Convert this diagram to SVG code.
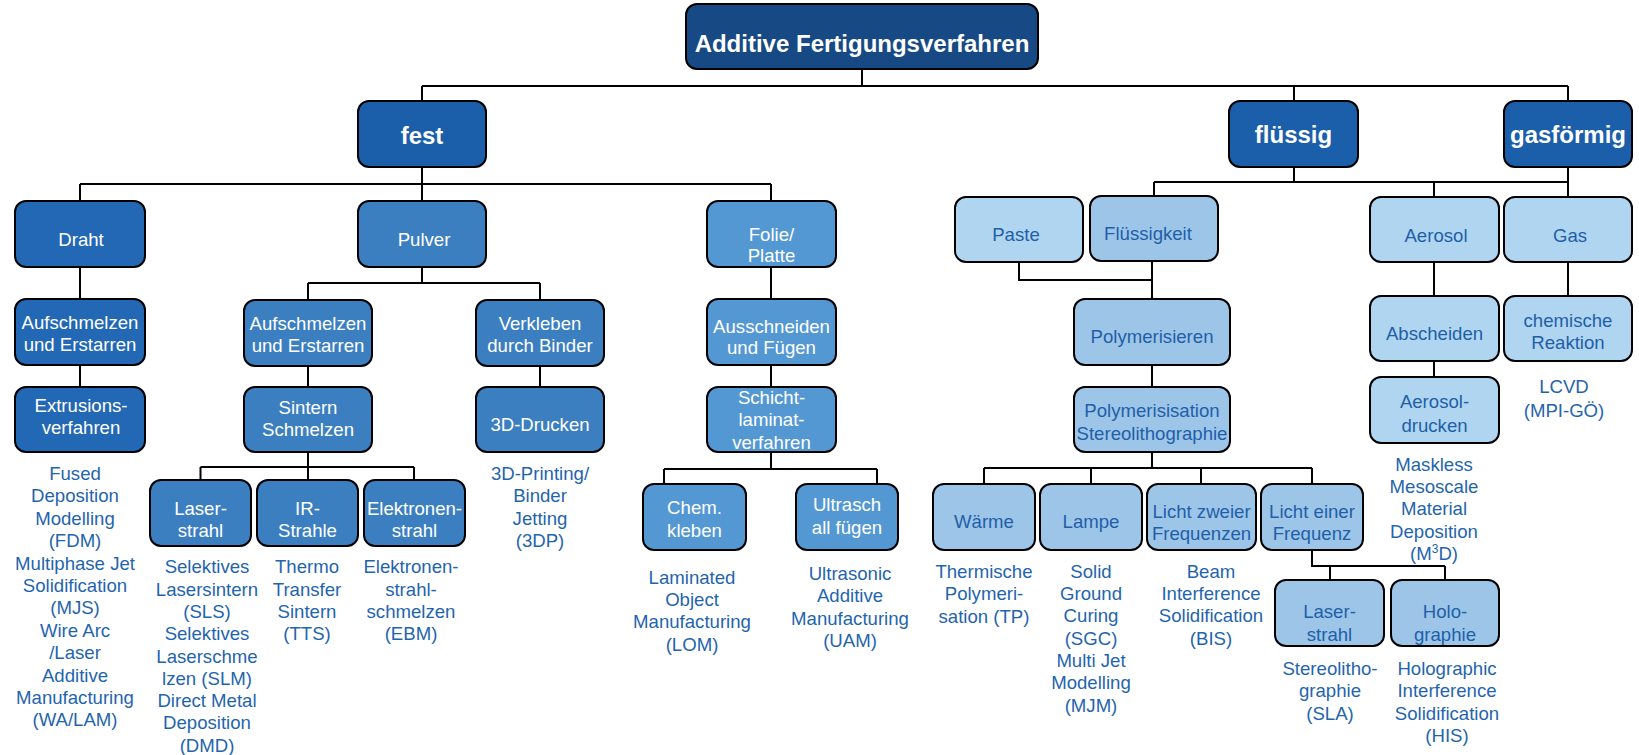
<svg xmlns="http://www.w3.org/2000/svg" width="1639" height="755" viewBox="0 0 1639 755">
<style>
rect{stroke:#000;stroke-width:2}
.c0{fill:#174A85}.c1{fill:#1B5EA9}.c2{fill:#2368B4}.c3{fill:#3C7FC1}.c4{fill:#5498D3}.c5{fill:#B0D5F0}.c6{fill:#9DC5E8}
text{font-family:"Liberation Sans",Arial,sans-serif;font-size:18.6px;text-anchor:middle}
.w{fill:#fff}.d{fill:#1F5FA8}.l{fill:#1F65AE}
.big{font-size:24px;font-weight:bold;fill:#fff}
.con{stroke:#000;stroke-width:2;fill:none}
</style>
<rect width="1639" height="755" fill="#fff" style="stroke:none"/>
<g id="connectors" class="con">
<path d="M862,69V86M422,86H1568M422,86V101M1294,86V101M1568,86V101"/>
<path d="M422,167V184M80,184H771M80,184V201M422,184V201M771,184V201"/>
<path d="M80,267V299M80,365V387"/>
<path d="M422,267V283M308,283H540M308,283V300M540,283V300M308,366V387M540,366V387"/>
<path d="M308,452V480M200.5,467H414M200.5,467V480M414,467V480"/>
<path d="M771,267V299M771,365V387M771,452V469M664,469H877M664,469V484M877,469V484"/>
<path d="M1294,167V182M1154,182H1568M1154,182V196M1434,182V197M1568,167V197"/>
<path d="M1019,262V280H1152M1152,261V299M1152,365V387"/>
<path d="M1152,452V468M984,468H1312M984,468V484M1091,468V484M1201,468V484M1312,468V484"/>
<path d="M1312,550V566H1445M1330,566V580M1445,566V580"/>
<path d="M1434,262V296M1434,361V377M1568,262V296"/>
</g>
<g id="root"><rect class="c0" x="686" y="4" width="352" height="65" rx="11"/><text class="big" x="862" y="52">Additive Fertigungsverfahren</text></g>
<g id="fest"><rect class="c1" x="358" y="101" width="128" height="66" rx="11"/><text class="big" x="422" y="144">fest</text></g>
<g id="fluessig"><rect class="c1" x="1229" y="101" width="129" height="66" rx="11"/><text class="big" x="1293.5" y="143">flüssig</text></g>
<g id="gasfoermig"><rect class="c1" x="1504" y="101" width="128" height="66" rx="11"/><text class="big" x="1568" y="143">gasförmig</text></g>

<g id="draht"><rect class="c2" x="15" y="201" width="130" height="66" rx="11"/><text class="w" x="81" y="246">Draht</text></g>
<g id="aufschmelzen1"><rect class="c2" x="15" y="299" width="130" height="66" rx="11"/><text class="w" x="80" y="329">Aufschmelzen<tspan x="80" dy="22.3">und Erstarren</tspan></text></g>
<g id="extrusion"><rect class="c2" x="15" y="387" width="130" height="65" rx="11"/><text class="w" x="81" y="411.7">Extrusions-<tspan x="81" dy="22.3">verfahren</tspan></text></g>

<g id="pulver"><rect class="c3" x="358" y="201" width="128" height="66" rx="11"/><text class="w" x="424" y="246">Pulver</text></g>
<g id="aufschmelzen2"><rect class="c3" x="244" y="300" width="128" height="66" rx="11"/><text class="w" x="308" y="330">Aufschmelzen<tspan x="308" dy="22">und Erstarren</tspan></text></g>
<g id="sintern"><rect class="c3" x="244" y="387" width="128" height="65" rx="11"/><text class="w" x="308" y="414">Sintern<tspan x="308" dy="22">Schmelzen</tspan></text></g>
<g id="verkleben"><rect class="c3" x="476" y="300" width="128" height="66" rx="11"/><text class="w" x="540" y="330">Verkleben<tspan x="540" dy="22">durch Binder</tspan></text></g>
<g id="drucken3d"><rect class="c3" x="476" y="387" width="128" height="65" rx="11"/><text class="w" x="540" y="430.7">3D-Drucken</text></g>
<g id="laserstrahl1"><rect class="c3" x="150" y="480" width="101" height="66" rx="11"/><text class="w" x="200.5" y="515">Laser-<tspan x="200.5" dy="21.7">strahl</tspan></text></g>
<g id="irstrahle"><rect class="c3" x="257" y="480" width="101" height="66" rx="11"/><text class="w" x="307.5" y="515">IR-<tspan x="307.5" dy="21.7">Strahle</tspan></text></g>
<g id="elektronenstrahl"><rect class="c3" x="364" y="480" width="101" height="66" rx="11"/><text class="w" x="414.5" y="515">Elektronen-<tspan x="414.5" dy="21.7">strahl</tspan></text></g>

<g id="folie"><rect class="c4" x="707" y="201" width="129" height="66" rx="11"/><text class="w" x="771.5" y="241">Folie/<tspan x="771.5" dy="21">Platte</tspan></text></g>
<g id="ausschneiden"><rect class="c4" x="707" y="299" width="129" height="66" rx="11"/><text class="w" x="771.5" y="332.7">Ausschneiden<tspan x="771.5" dy="21.6">und Fügen</tspan></text></g>
<g id="schicht"><rect class="c4" x="707" y="387" width="129" height="65" rx="11"/><text class="w" x="771.5" y="404">Schicht-<tspan x="771.5" dy="22.3">laminat-</tspan><tspan x="771.5" dy="22.3">verfahren</tspan></text></g>
<g id="chem"><rect class="c4" x="643" y="484" width="103" height="66" rx="11"/><text class="w" x="694.5" y="514">Chem.<tspan x="694.5" dy="22.7">kleben</tspan></text></g>
<g id="ultrasch"><rect class="c4" x="796" y="484" width="102" height="66" rx="11"/><text class="w" x="847" y="510.7">Ultrasch<tspan x="847" dy="23.3">all fügen</tspan></text></g>

<g id="paste"><rect class="c5" x="955" y="197" width="128" height="65" rx="11"/><text class="d" x="1016" y="240.7">Paste</text></g>
<g id="fluessigkeit"><rect class="c6" x="1090" y="196" width="128" height="65" rx="11"/><text class="d" x="1148" y="240">Flüssigkeit</text></g>
<g id="polymerisieren"><rect class="c6" x="1074" y="299" width="156" height="66" rx="11"/><text class="d" x="1152" y="343.3">Polymerisieren</text></g>
<g id="polymerisisation"><rect class="c6" x="1074" y="387" width="156" height="65" rx="11"/><text class="d" x="1152" y="417.3">Polymerisisation<tspan x="1152" dy="22.7">Stereolithographie</tspan></text></g>
<g id="waerme"><rect class="c6" x="933" y="484" width="102" height="66" rx="11"/><text class="d" x="984" y="528.3">Wärme</text></g>
<g id="lampe"><rect class="c6" x="1040" y="484" width="102" height="66" rx="11"/><text class="d" x="1091" y="528.3">Lampe</text></g>
<g id="licht2"><rect class="c6" x="1147" y="484" width="109" height="66" rx="11"/><text class="d" x="1201.5" y="518.3">Licht zweier<tspan x="1201.5" dy="21.7">Frequenzen</tspan></text></g>
<g id="licht1"><rect class="c6" x="1261" y="484" width="102" height="66" rx="11"/><text class="d" x="1312" y="518.3">Licht einer<tspan x="1312" dy="21.7">Frequenz</tspan></text></g>
<g id="laserstrahl2"><rect class="c6" x="1275" y="580" width="109" height="66" rx="11"/><text class="d" x="1329.5" y="618.3">Laser-<tspan x="1329.5" dy="22.7">strahl</tspan></text></g>
<g id="holographie"><rect class="c6" x="1391" y="580" width="108" height="66" rx="11"/><text class="d" x="1445" y="618.3">Holo-<tspan x="1445" dy="22.7">graphie</tspan></text></g>

<g id="aerosol"><rect class="c5" x="1370" y="197" width="129" height="65" rx="11"/><text class="d" x="1436" y="241.7">Aerosol</text></g>
<g id="gas"><rect class="c5" x="1504" y="197" width="128" height="65" rx="11"/><text class="d" x="1570" y="241.7">Gas</text></g>
<g id="abscheiden"><rect class="c5" x="1370" y="296" width="129" height="65" rx="11"/><text class="d" x="1434.5" y="340">Abscheiden</text></g>
<g id="chemreaktion"><rect class="c5" x="1504" y="296" width="128" height="65" rx="11"/><text class="d" x="1568" y="326.7">chemische<tspan x="1568" dy="22.6">Reaktion</tspan></text></g>
<g id="aerosoldrucken"><rect class="c5" x="1370" y="377" width="129" height="66" rx="11"/><text class="d" x="1434.5" y="408.3">Aerosol-<tspan x="1434.5" dy="23.4">drucken</tspan></text></g>

<g id="labels" class="l">
<text class="l" x="75" y="480">Fused<tspan x="75" dy="22.4">Deposition</tspan><tspan x="75" dy="22.4">Modelling</tspan><tspan x="75" dy="22.4">(FDM)</tspan><tspan x="75" dy="22.4">Multiphase Jet</tspan><tspan x="75" dy="22.4">Solidification</tspan><tspan x="75" dy="22.4">(MJS)</tspan><tspan x="75" dy="22.4">Wire Arc</tspan><tspan x="75" dy="22.4">/Laser</tspan><tspan x="75" dy="22.4">Additive</tspan><tspan x="75" dy="22.4">Manufacturing</tspan><tspan x="75" dy="22.4">(WA/LAM)</tspan></text>
<text class="l" x="207" y="573.3">Selektives<tspan x="207" dy="22.3">Lasersintern</tspan><tspan x="207" dy="22.3">(SLS)</tspan><tspan x="207" dy="22.3">Selektives</tspan><tspan x="207" dy="22.3">Laserschme</tspan><tspan x="207" dy="22.3">lzen (SLM)</tspan><tspan x="207" dy="22.3">Direct Metal</tspan><tspan x="207" dy="22.3">Deposition</tspan><tspan x="207" dy="22.3">(DMD)</tspan></text>
<text class="l" x="307" y="573.3">Thermo<tspan x="307" dy="22.3">Transfer</tspan><tspan x="307" dy="22.3">Sintern</tspan><tspan x="307" dy="22.3">(TTS)</tspan></text>
<text class="l" x="411" y="573.3">Elektronen-<tspan x="411" dy="22.3">strahl-</tspan><tspan x="411" dy="22.3">schmelzen</tspan><tspan x="411" dy="22.3">(EBM)</tspan></text>
<text class="l" x="540" y="480">3D-Printing/<tspan x="540" dy="22.3">Binder</tspan><tspan x="540" dy="22.3">Jetting</tspan><tspan x="540" dy="22.3">(3DP)</tspan></text>
<text class="l" x="692" y="584">Laminated<tspan x="692" dy="22.2">Object</tspan><tspan x="692" dy="22.2">Manufacturing</tspan><tspan x="692" dy="22.2">(LOM)</tspan></text>
<text class="l" x="850" y="580">Ultrasonic<tspan x="850" dy="22.4">Additive</tspan><tspan x="850" dy="22.4">Manufacturing</tspan><tspan x="850" dy="22.4">(UAM)</tspan></text>
<text class="l" x="984" y="578">Thermische<tspan x="984" dy="22.4">Polymeri-</tspan><tspan x="984" dy="22.4">sation (TP)</tspan></text>
<text class="l" x="1091" y="577.7">Solid<tspan x="1091" dy="22.3">Ground</tspan><tspan x="1091" dy="22.3">Curing</tspan><tspan x="1091" dy="22.3">(SGC)</tspan><tspan x="1091" dy="22.3">Multi Jet</tspan><tspan x="1091" dy="22.3">Modelling</tspan><tspan x="1091" dy="22.3">(MJM)</tspan></text>
<text class="l" x="1211" y="577.7">Beam<tspan x="1211" dy="22.3">Interference</tspan><tspan x="1211" dy="22.3">Solidification</tspan><tspan x="1211" dy="22.3">(BIS)</tspan></text>
<text class="l" x="1330" y="675">Stereolitho-<tspan x="1330" dy="22.3">graphie</tspan><tspan x="1330" dy="22.3">(SLA)</tspan></text>
<text class="l" x="1447" y="675">Holographic<tspan x="1447" dy="22.3">Interference</tspan><tspan x="1447" dy="22.3">Solidification</tspan><tspan x="1447" dy="22.3">(HIS)</tspan></text>
<text class="l" x="1434" y="470.7">Maskless<tspan x="1434" dy="22.3">Mesoscale</tspan><tspan x="1434" dy="22.3">Material</tspan><tspan x="1434" dy="22.3">Deposition</tspan><tspan x="1434" dy="22.3">(M<tspan font-size="12" dy="-7">3</tspan><tspan dy="7">D)</tspan></tspan></text>
<text class="l" x="1564" y="393.3">LCVD<tspan x="1564" dy="23.4">(MPI-GÖ)</tspan></text>
</g>
</svg>
